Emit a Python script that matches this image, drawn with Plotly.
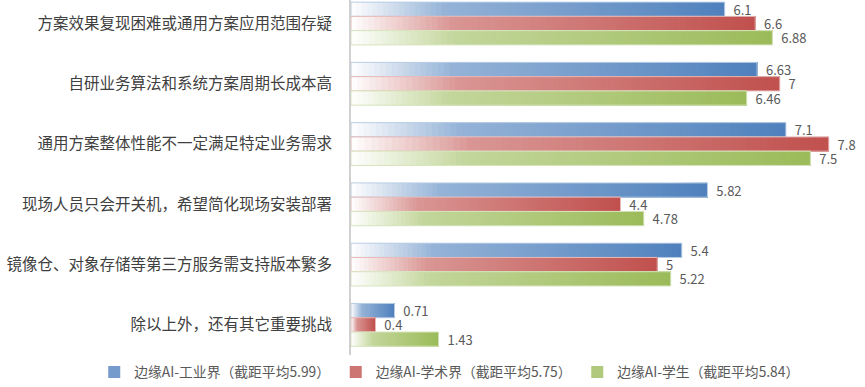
import plotly.graph_objects as go

categories = [
    "方案效果复现困难或通用方案应用范围存疑",
    "自研业务算法和系统方案周期长成本高",
    "通用方案整体性能不一定满足特定业务需求",
    "现场人员只会开关机，希望简化现场安装部署",
    "镜像仓、对象存储等第三方服务需支持版本繁多",
    "除以上外，还有其它重要挑战",
]
industry = [6.1, 6.63, 7.1, 5.82, 5.4, 0.71]
academia = [6.6, 7, 7.8, 4.4, 5, 0.4]
students = [6.88, 6.46, 7.5, 4.78, 5.22, 1.43]
series_names = [
    "边缘AI-工业界（截距平均5.99）",
    "边缘AI-学术界（截距平均5.75）",
    "边缘AI-学生（截距平均5.84）",
]
series_values = [industry, academia, students]

# gradient styling (white -> light tint -> full colour)
palette = [
    ("#FFFFFF", "#95B3D7", "#4F81BD", "#B9CDE5"),
    ("#FFFFFF", "#D99694", "#C0504D", "#E6B9B8"),
    ("#FFFFFF", "#C3D69B", "#9BBB59", "#D7E4BD"),
]
N_SEG = 70
KNEE = 0.25


def hex2rgb(h):
    h = h.lstrip("#")
    return tuple(int(h[i:i + 2], 16) for i in (0, 2, 4))


def mix(c1, c2, t):
    a, b = hex2rgb(c1), hex2rgb(c2)
    return "rgb(%d,%d,%d)" % tuple(round(a[k] + (b[k] - a[k]) * t) for k in range(3))


def grad(start, mid, end, t):
    if t < KNEE:
        return mix(start, mid, t / KNEE)
    return mix(mid, end, (t - KNEE) / (1 - KNEE))


fig = go.Figure()
FONT = "Noto Sans CJK SC"

for si, (name, vals) in enumerate(zip(series_names, series_values)):
    c0, c1, c2, edge = palette[si]
    grp = "s%d" % si
    for i in range(N_SEG):
        frac = i / N_SEG
        t = (i + 0.5) / N_SEG
        fig.add_trace(go.Bar(
            y=categories,
            x=[v * (1 - frac) for v in vals],
            base=[v * frac for v in vals],
            orientation="h",
            offsetgroup=grp,
            marker=dict(color=grad(c0, c1, c2, t), line=dict(width=0)),
            name=name,
            legendgroup=grp,
            showlegend=(i == int(N_SEG * 0.6)),
            hoverinfo="skip",
        ))
    # outline + data labels
    fig.add_trace(go.Bar(
        y=categories,
        x=vals,
        orientation="h",
        offsetgroup=grp,
        marker=dict(color="rgba(0,0,0,0)", line=dict(color=edge, width=1)),
        text=["\u00a0\u00a0%g" % v for v in vals],
        textposition="outside",
        constraintext="none",
        cliponaxis=False,
        textfont=dict(family=FONT, size=13, color="#595959"),
        name=name,
        legendgroup=grp,
        showlegend=False,
        hoverinfo="skip",
    ))

fig.update_layout(
    width=865,
    height=387,
    margin=dict(l=351, r=24, t=0, b=32, autoexpand=False),
    paper_bgcolor="white",
    plot_bgcolor="white",
    barmode="group",
    bargap=0.29,
    bargroupgap=0,
    font=dict(family=FONT, color="#404040"),
    showlegend=True,
    legend=dict(
        orientation="h",
        x=-0.524,
        xanchor="left",
        y=-0.048,
        yanchor="middle",
        entrywidth=196.5,
        entrywidthmode="pixels",
        itemwidth=30,
        font=dict(family=FONT, size=13.8, color="#595959"),
        bgcolor="rgba(0,0,0,0)",
        traceorder="normal",
    ),
    xaxis=dict(
        range=[0, 8],
        visible=False,
        showgrid=False,
        zeroline=False,
        automargin=False,
    ),
    yaxis=dict(
        type="category",
        categoryorder="array",
        categoryarray=categories,
        range=[5.5, -0.39],
        showline=True,
        linecolor="#D0D0D0",
        linewidth=2,
        showgrid=False,
        zeroline=False,
        automargin=False,
        ticks="",
        ticklabelstandoff=14,
        tickfont=dict(family=FONT, size=15.5, color="#404040"),
    ),
)

fig.write_html(
    "out.html",
    config={"displayModeBar": False},
    post_script="document.body.style.margin='0';document.body.style.padding='0';",
)
